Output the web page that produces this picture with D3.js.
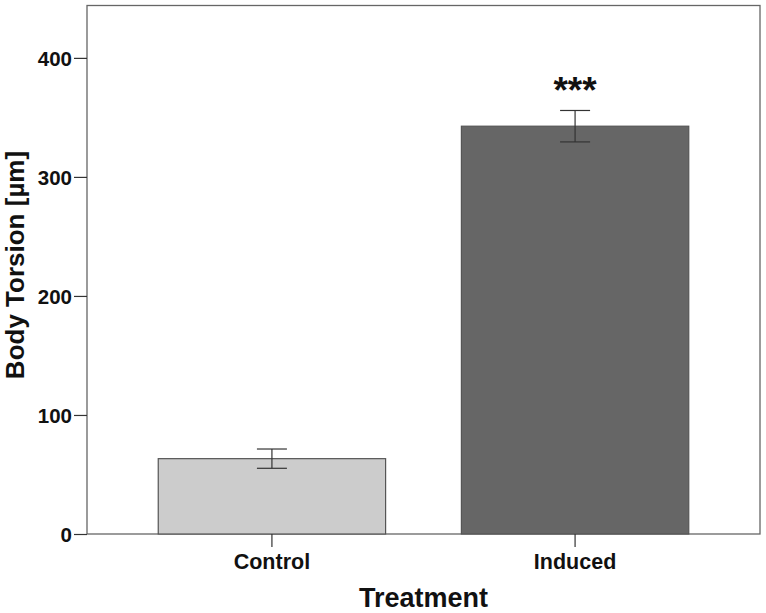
<!DOCTYPE html>
<html><head><meta charset="utf-8">
<script src="https://cdn.jsdelivr.net/npm/d3@7"></script>
<style>body{margin:0;background:#fff}text{font-family:"Liberation Sans",Arial,sans-serif;font-weight:bold}</style>
</head><body>
<svg id="c" width="766" height="613"></svg>
<script>
const categories = ["Control", "Induced"];
const means = [63.3, 342.6];
const errors = [8.1, 13.2];
const barColors = ["#cccccc", "#666666"];
const yTicks = [0, 100, 200, 300, 400];
const annotations = ["", "***"];

const svg = d3.select("#c");
const L = 87, R = 760, T = 5.5, B = 534;
const x = d3.scaleBand().domain(categories).range([L, R]).paddingInner(0.25).paddingOuter(0.235);
const y = d3.scaleLinear().domain([0, 444]).range([B, T]);

// frame
svg.append("rect").attr("x", L).attr("y", T).attr("width", R - L).attr("height", B - T)
  .attr("fill", "none").attr("stroke", "#666").attr("stroke-width", 1.3);

// bars
svg.selectAll(".bar").data(categories).enter().append("rect")
  .attr("x", d => x(d)).attr("width", x.bandwidth())
  .attr("y", (d, i) => y(means[i])).attr("height", (d, i) => B - y(means[i]))
  .attr("fill", (d, i) => barColors[i]).attr("stroke", "#555").attr("stroke-width", 1.2);

// error bars
const cap = 15;
categories.forEach((c, i) => {
  const cx = x(c) + x.bandwidth() / 2;
  const g = svg.append("g").attr("stroke", "#333").attr("stroke-width", 1.2);
  g.append("line").attr("x1", cx).attr("x2", cx).attr("y1", y(means[i] + errors[i])).attr("y2", y(means[i] - errors[i]));
  g.append("line").attr("x1", cx - cap).attr("x2", cx + cap).attr("y1", y(means[i] + errors[i])).attr("y2", y(means[i] + errors[i]));
  g.append("line").attr("x1", cx - cap).attr("x2", cx + cap).attr("y1", y(means[i] - errors[i])).attr("y2", y(means[i] - errors[i]));
  if (annotations[i]) {
    svg.append("text").attr("x", cx).attr("y", y(means[i] + errors[i]) - 7)
      .attr("text-anchor", "middle").attr("font-size", 37).attr("fill", "#111").text(annotations[i]);
  }
});

// y axis
const ya = svg.append("g").attr("transform", `translate(${L},0)`)
  .call(d3.axisLeft(y).tickValues(yTicks).tickSize(13).tickPadding(2).tickFormat(d3.format("d")));
ya.select(".domain").remove();
ya.selectAll("line").attr("stroke", "#333").attr("stroke-width", 1.2);
ya.selectAll("text").attr("font-size", 20.5).attr("fill", "#111").attr("dy", "0.36em");

// x axis
const xa = svg.append("g").attr("transform", `translate(0,${B})`)
  .call(d3.axisBottom(x).tickSize(13).tickPadding(7));
xa.select(".domain").remove();
xa.selectAll("line").attr("stroke", "#333").attr("stroke-width", 1.2);
xa.selectAll("text").attr("font-size", 21.5).attr("fill", "#111");

// titles
svg.append("text").attr("x", (L + R) / 2).attr("y", 607).attr("text-anchor", "middle")
  .attr("font-size", 27).attr("fill", "#111").text("Treatment");
svg.append("text").attr("transform", `translate(24,265) rotate(-90)`)
  .attr("text-anchor", "middle").attr("font-size", 26).attr("fill", "#111").text("Body Torsion [µm]");
</script>
</body></html>
